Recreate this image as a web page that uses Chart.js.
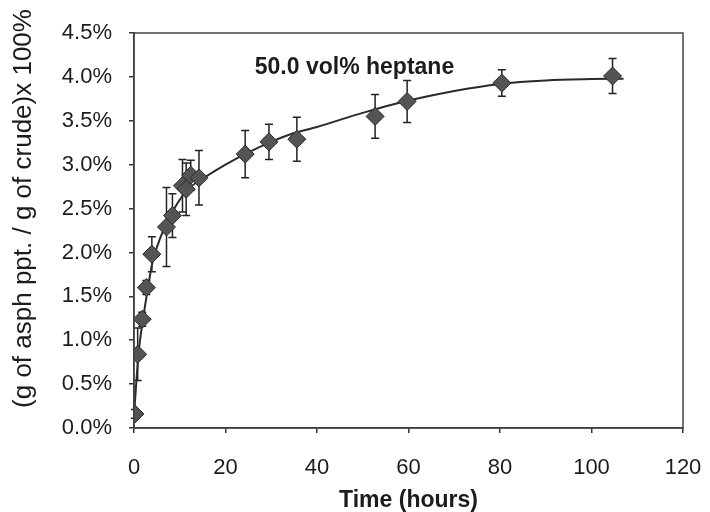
<!DOCTYPE html>
<html>
<head>
<meta charset="utf-8">
<script src="https://cdn.jsdelivr.net/npm/chart.js@4"></script>
<style>
  html, body { margin: 0; padding: 0; background: #fff; }
  #wrap { width: 710px; height: 512px; }
</style>
</head>
<body>
<div id="wrap"><canvas id="asphChart" width="710" height="512"></canvas></div>
<script>
// measured points (time in hours, precipitate in % of crude)
const timeHours = [0.2, 0.8, 1.8, 2.7, 3.9, 7.1, 8.4, 10.6, 11.4, 12.4, 14.2, 24.3, 29.5, 35.6, 52.7, 59.7, 80.4, 104.6];
const precipPct = [0.16, 0.84, 1.24, 1.60, 1.98, 2.29, 2.42, 2.76, 2.72, 2.88, 2.85, 3.12, 3.26, 3.29, 3.55, 3.72, 3.93, 4.01];
const errorPct  = [0.05, 0.30, 0.08, 0.08, 0.20, 0.45, 0.25, 0.30, 0.30, 0.17, 0.31, 0.27, 0.20, 0.25, 0.25, 0.24, 0.15, 0.20];

// fitted curve
const fitHours = [0, 1, 2, 3, 4, 6, 8, 10, 12, 15, 20, 25, 30, 35, 40, 50, 60, 70, 80, 90, 100, 107];
const fitPct   = [0.15, 0.85, 1.25, 1.58, 1.88, 2.2, 2.42, 2.6, 2.73, 2.84, 3.0, 3.14, 3.26, 3.36, 3.43, 3.59, 3.73, 3.84, 3.92, 3.96, 3.975, 3.98];

const xTicks = [0, 20, 40, 60, 80, 100, 120];
const yTicks = [0, 0.5, 1.0, 1.5, 2.0, 2.5, 3.0, 3.5, 4.0, 4.5];

const noteText = '50.0 vol% heptane';
const xTitle = 'Time (hours)';
const yTitle = '(g of asph ppt. / g of crude)x 100%';

const ink = '#1c1c1c';
const fontFam = '"Liberation Sans", Arial, sans-serif';

// error bars under the markers
const errorBarPlugin = {
  id: 'errorBars',
  beforeDatasetsDraw(chart) {
    const { ctx, scales: { x, y } } = chart;
    ctx.save();
    ctx.strokeStyle = '#222';
    ctx.lineWidth = 1.5;
    timeHours.forEach((t, i) => {
      const px = x.getPixelForValue(t);
      const top = y.getPixelForValue(precipPct[i] + errorPct[i]);
      const bot = y.getPixelForValue(precipPct[i] - errorPct[i]);
      ctx.beginPath();
      ctx.moveTo(px, top); ctx.lineTo(px, bot);
      ctx.moveTo(px - 4, top); ctx.lineTo(px + 4, top);
      ctx.moveTo(px - 4, bot); ctx.lineTo(px + 4, bot);
      ctx.stroke();
    });
    ctx.restore();
  }
};

// box around plot, the text label inside, and the y title (sits a bit above centre in the original)
const frameAndNote = {
  id: 'frameAndNote',
  afterDraw(chart) {
    const { ctx, chartArea: a, scales: { x, y } } = chart;
    ctx.save();
    ctx.strokeStyle = '#444';
    ctx.lineWidth = 1.5;
    ctx.strokeRect(a.left, a.top, a.right - a.left, a.bottom - a.top);
    ctx.fillStyle = ink;
    ctx.font = 'bold 23px ' + fontFam;
    ctx.textAlign = 'left';
    ctx.textBaseline = 'middle';
    ctx.fillText(noteText, x.getPixelForValue(26.4), y.getPixelForValue(4.11));

    ctx.translate(24, (a.top + a.bottom) / 2 - 22);
    ctx.rotate(-Math.PI / 2);
    ctx.font = '26px ' + fontFam;
    ctx.textAlign = 'center';
    ctx.fillText(yTitle, 0, 0);
    ctx.restore();
  }
};

const ctx = document.getElementById('asphChart').getContext('2d');
new Chart(ctx, {
  type: 'scatter',
  data: {
    datasets: [
      {
        label: 'points',
        data: timeHours.map((t, i) => ({ x: t, y: precipPct[i] })),
        pointStyle: 'rectRot',
        pointRadius: 9,
        pointHoverRadius: 9,
        backgroundColor: '#545454',
        borderColor: '#2a2a2a',
        borderWidth: 1,
        order: 1
      },
      {
        label: 'fit',
        type: 'line',
        data: fitHours.map((t, i) => ({ x: t, y: fitPct[i] })),
        borderColor: '#2a2a2a',
        borderWidth: 2,
        pointRadius: 0,
        fill: false,
        cubicInterpolationMode: 'monotone',
        order: 2
      }
    ]
  },
  options: {
    responsive: false,
    animation: false,
    devicePixelRatio: 1,
    layout: { padding: { left: 0, right: 27, top: 33, bottom: 0 } },
    plugins: {
      legend: { display: false },
      tooltip: { enabled: false }
    },
    scales: {
      x: {
        type: 'linear',
        min: 0,
        max: 120,
        afterBuildTicks: s => { s.ticks = xTicks.map(v => ({ value: v })); },
        ticks: {
          color: ink,
          font: { family: fontFam, size: 22 },
          padding: 22,
          maxRotation: 0
        },
        grid: { drawOnChartArea: false, drawTicks: true, tickLength: 5, color: '#333', lineWidth: 1.5 },
        border: { display: true, color: '#333', width: 1.5 },
        title: {
          display: true,
          text: xTitle,
          color: ink,
          font: { family: fontFam, size: 23, weight: 'bold', lineHeight: 1 },
          padding: { top: 0, bottom: 0 }
        },
        afterFit: s => {
          s.height = 84;
          s.paddingLeft = 0;
          s.paddingRight = 0;
        }
      },
      y: {
        type: 'linear',
        min: 0,
        max: 4.5,
        afterBuildTicks: s => { s.ticks = yTicks.map(v => ({ value: v })); },
        ticks: {
          color: ink,
          font: { family: fontFam, size: 22 },
          padding: 17,
          callback: v => v.toFixed(1) + '%'
        },
        grid: { drawOnChartArea: false, drawTicks: true, tickLength: 5, color: '#333', lineWidth: 1.5 },
        border: { display: true, color: '#333', width: 1.5 },
        title: { display: false },
        afterFit: s => {
          s.width = 134;
          s.paddingTop = 0;
          s.paddingBottom = 0;
        }
      }
    }
  },
  plugins: [errorBarPlugin, frameAndNote]
});
</script>
</body>
</html>
